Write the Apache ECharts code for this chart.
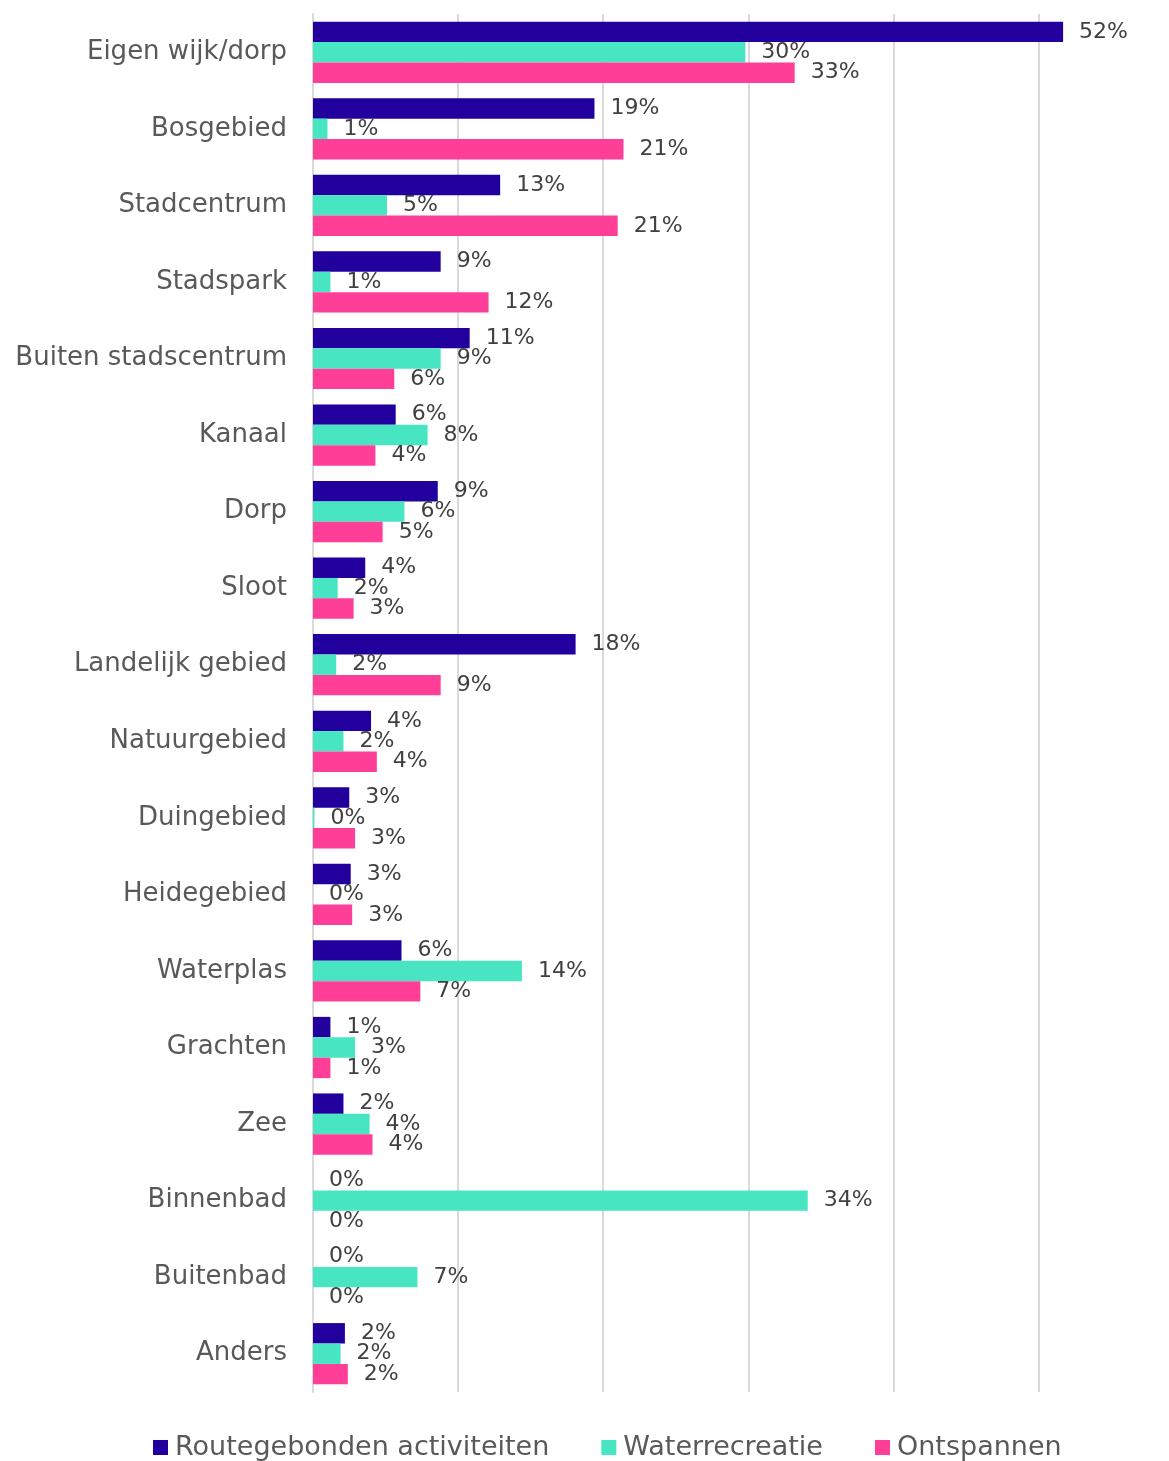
<!DOCTYPE html>
<html><head><meta charset="utf-8">
<script src="https://cdn.jsdelivr.net/npm/echarts@6/dist/echarts.min.js"></script>
<style>html,body{margin:0;padding:0;background:#fff}#c{width:1169px;height:1461px}</style>
</head><body><div id="c"></div>
<script>
var categories = ["Eigen wijk/dorp","Bosgebied","Stadcentrum","Stadspark","Buiten stadscentrum","Kanaal","Dorp","Sloot","Landelijk gebied","Natuurgebied","Duingebied","Heidegebied","Waterplas","Grachten","Zee","Binnenbad","Buitenbad","Anders"];
var seriesNames = ["Routegebonden activiteiten","Waterrecreatie","Ontspannen"];
var routegebonden = [51.7,19.4,12.9,8.8,10.8,5.7,8.6,3.6,18.1,4.0,2.5,2.6,6.1,1.2,2.1,0,0,2.2];
var waterrecreatie = [29.8,1.0,5.1,1.2,8.8,7.9,6.3,1.7,1.6,2.1,0.1,0.0,14.4,2.9,3.9,34.1,7.2,1.9];
var ontspannen = [33.2,21.4,21.0,12.1,5.6,4.3,4.8,2.8,8.8,4.4,2.9,2.7,7.4,1.2,4.1,0,0,2.4];
var colors = ["#22009E","#48E5C2","#FF3E98"];
var FONT = "DejaVu Sans";
var chart = echarts.init(document.getElementById('c'), null, {renderer:'canvas'});
function mk(name, data, i){
  return {name:name, type:'bar', data:data, barGap:'0%', barCategoryGap:'20%',
    itemStyle:{color:colors[i]},
    label:{show:true, position:'right', distance:16, color:'#404040', fontFamily:FONT, fontSize:22,
      formatter:function(p){return Math.round(p.value)+'%';}},
    animation:false};
}
chart.setOption({
  animation:false,
  textStyle:{fontFamily:FONT},
  color:colors,
  grid:{left:313, top:14, right:0, height:1378, containLabel:false},
  legend:{bottom:-5, left:148, itemWidth:15, itemHeight:15, itemGap:52, icon:'rect',
    textStyle:{fontFamily:FONT, fontSize:27, color:'#595959', padding:[0,0,0,2]}},
  xAxis:{type:'value', min:0, max:59, interval:10,
    axisLabel:{show:false}, axisLine:{show:false}, axisTick:{show:false},
    splitLine:{show:true, showMaxLine:false, lineStyle:{color:'#d9d9d9', width:2}}},
  yAxis:{type:'category', data:categories, inverse:true,
    axisLine:{show:true, lineStyle:{color:'#d9d9d9', width:2}},
    axisTick:{show:false},
    axisLabel:{margin:26, color:'#595959', fontFamily:FONT, fontSize:26}},
  series:[mk(seriesNames[0],routegebonden,0), mk(seriesNames[1],waterrecreatie,1), mk(seriesNames[2],ontspannen,2)]
});
</script></body></html>
